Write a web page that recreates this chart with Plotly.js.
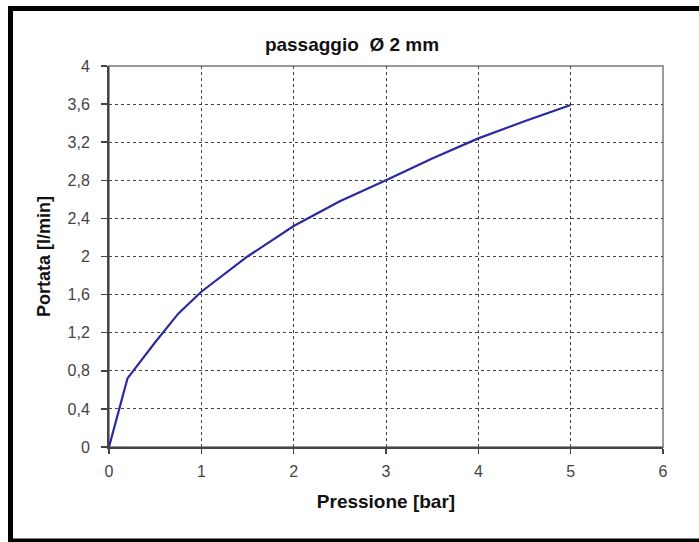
<!DOCTYPE html>
<html>
<head>
<meta charset="utf-8">
<script src="https://cdn.plot.ly/plotly-3.0.1.min.js"></script>
<style>
html,body{margin:0;padding:0;background:#fff;}
#chart{width:699px;height:542px;}
</style>
</head>
<body>
<div id="chart"></div>
<script>
// Data
const pressione = [0, 0.2, 0.5, 0.75, 1, 1.5, 2, 2.5, 3, 3.5, 4, 4.5, 5];
const portata   = [0, 0.72, 1.1, 1.4, 1.63, 2.0, 2.32, 2.58, 2.8, 3.03, 3.24, 3.42, 3.59];
const xTickVals = [0, 1, 2, 3, 4, 5, 6];
const xTickText = ["0", "1", "2", "3", "4", "5", "6"];
const yTickVals = [0, 0.4, 0.8, 1.2, 1.6, 2, 2.4, 2.8, 3.2, 3.6, 4];
const yTickText = ["0", "0,4", "0,8", "1,2", "1,6", "2", "2,4", "2,8", "3,2", "3,6", "4"];

const W = 699, H = 542;
const L = 109, R = 36, T = 66, B = 95;
const pw = W - L - R, ph = H - T - B;
function px(x){ return (x - L) / pw; }
function py(y){ return (H - B - y) / ph; }

const font = "Liberation Sans, Arial, sans-serif";

const trace = {
  x: pressione, y: portata, type: "scatter", mode: "lines",
  line: {color: "#2a2aa0", width: 2.2}, hoverinfo: "x+y"
};

const axisCommon = {
  showgrid: true, gridcolor: "#444", gridwidth: 1, griddash: "dot",
  zeroline: false, showline: true, linecolor: "#444", linewidth: 2,
  ticks: "outside", tickcolor: "#444", tickwidth: 1.5,
  tickfont: {family: font, size: 16, color: "#444"},
  fixedrange: true
};

const layout = {
  width: W, height: H,
  margin: {l: L, r: R, t: T, b: B, pad: 0},
  paper_bgcolor: "#fff", plot_bgcolor: "#fff",
  showlegend: false,
  title: {
    text: "<b>passaggio  Ø 2 mm</b>",
    font: {family: font, size: 19, color: "#111"},
    xref: "container", yref: "container",
    x: 352 / W, y: 1 - 44 / H, xanchor: "center", yanchor: "middle"
  },
  xaxis: Object.assign({}, axisCommon, {
    range: [0, 6], tickvals: xTickVals, ticktext: xTickText,
    ticklen: 5, ticklabelstandoff: 4,
    title: {text: "<b>Pressione [bar]</b>", font: {family: font, size: 19, color: "#111"}, standoff: 15}
  }),
  yaxis: Object.assign({}, axisCommon, {
    range: [0, 4], tickvals: yTickVals, ticktext: yTickText,
    ticklen: 6, ticklabelstandoff: 8,
    title: {text: "<b>Portata [l/min]</b>", font: {family: font, size: 18, color: "#111"}, standoff: 12}
  }),
  shapes: [
    {type: "rect", xref: "paper", yref: "paper", x0: 0, x1: 1, y0: 0, y1: 1,
     line: {color: "#999", width: 2}, layer: "below"},
    {type: "rect", xref: "paper", yref: "paper",
     x0: px(10.5), x1: px(720), y0: py(541), y1: py(8.5),
     line: {color: "#000", width: 5}, layer: "above"}
  ]
};

Plotly.newPlot("chart", [trace], layout, {displayModeBar: false, staticPlot: true});
</script>
</body>
</html>
